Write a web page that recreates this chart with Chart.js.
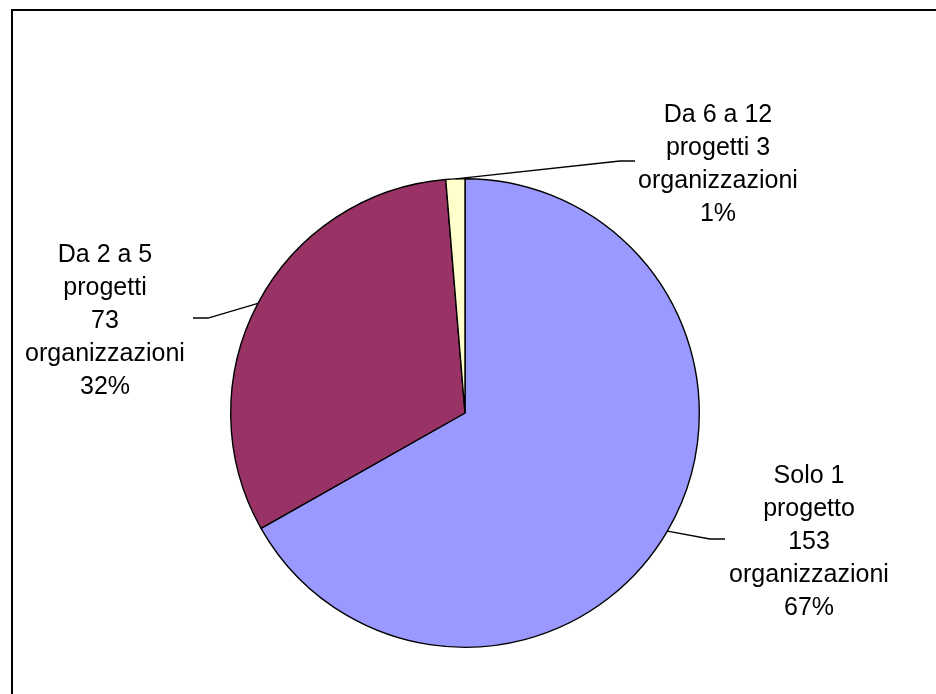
<!DOCTYPE html>
<html>
<head>
<meta charset="utf-8">
<script src="https://cdn.jsdelivr.net/npm/chart.js@4.4.1/dist/chart.umd.min.js"></script>
<style>
  html, body { margin: 0; padding: 0; background: #fff; overflow: hidden; }
  #wrap { position: relative; width: 936px; height: 694px; }
  #frame { position: absolute; left: 11px; top: 9px; width: 940px; height: 700px; border: 2px solid #000; box-sizing: border-box; }
  canvas { position: absolute; left: 0; top: 0; }
</style>
</head>
<body>
<div id="wrap">
  <div id="frame"></div>
  <canvas id="pieChart" width="936" height="694"></canvas>
</div>
<script>
// Dati
const categorie = ['Solo 1 progetto', 'Da 2 a 5 progetti', 'Da 6 a 12 progetti'];
const organizzazioni = [153, 73, 3];
const percentuali = ['67%', '32%', '1%'];
const colori = ['#9999FF', '#993366', '#FFFFCC'];

// Righe delle etichette
const etichette = [
    ['Solo 1', 'progetto', '153', 'organizzazioni', '67%'],
    ['Da 2 a 5', 'progetti', '73', 'organizzazioni', '32%'],
    ['Da 6 a 12', 'progetti 3', 'organizzazioni', '1%']
];

// Posizione etichette: centro testo, prima linea di base, gomito e fine della linea guida
const posEtichette = [
    { cx: 809, y: 483, elbowX: 710, elbowY: 539, endX: 725 },
    { cx: 105, y: 262, elbowX: 208, elbowY: 318, endX: 193 },
    { cx: 718, y: 122, elbowX: 620, elbowY: 161, endX: 635 }
];
const interlinea = 33;

const etichettePlugin = {
    id: 'etichette',
    afterDatasetsDraw(chart) {
        const ctx = chart.ctx;
        const meta = chart.getDatasetMeta(0);
        ctx.save();
        meta.data.forEach((arc, i) => {
            const p = arc.getProps(['x', 'y', 'startAngle', 'endAngle', 'outerRadius'], true);
            const mid = (p.startAngle + p.endAngle) / 2;
            const sx = p.x + Math.cos(mid) * p.outerRadius;
            const sy = p.y + Math.sin(mid) * p.outerRadius;
            const pos = posEtichette[i];
            ctx.strokeStyle = '#000';
            ctx.lineWidth = 1.3;
            ctx.beginPath();
            ctx.moveTo(sx, sy);
            ctx.lineTo(pos.elbowX, pos.elbowY);
            ctx.lineTo(pos.endX, pos.elbowY);
            ctx.stroke();

            ctx.fillStyle = '#000';
            ctx.font = '25px "Liberation Sans", Arial, sans-serif';
            ctx.textAlign = 'center';
            ctx.textBaseline = 'alphabetic';
            etichette[i].forEach((riga, j) => {
                ctx.fillText(riga, pos.cx, pos.y + j * interlinea);
            });
        });
        ctx.restore();
    }
};

const pieChartData = {
    labels: categorie,
    datasets: [{
        label: 'Organizzazioni',
        data: organizzazioni,
        backgroundColor: colori,
        borderColor: '#000',
        borderWidth: 1.4
    }]
};

const pieChartConfig = {
    type: 'pie',
    data: pieChartData,
    options: {
        responsive: false,
        animation: false,
        layout: {
            padding: { left: 230, right: 236, top: 178, bottom: 46 }
        },
        plugins: {
            legend: { display: false },
            tooltip: { enabled: false }
        }
    },
    plugins: [etichettePlugin]
};

window.onload = function() {
    const pieCtx = document.getElementById('pieChart').getContext('2d');
    new Chart(pieCtx, pieChartConfig);
};
</script>
</body>
</html>
